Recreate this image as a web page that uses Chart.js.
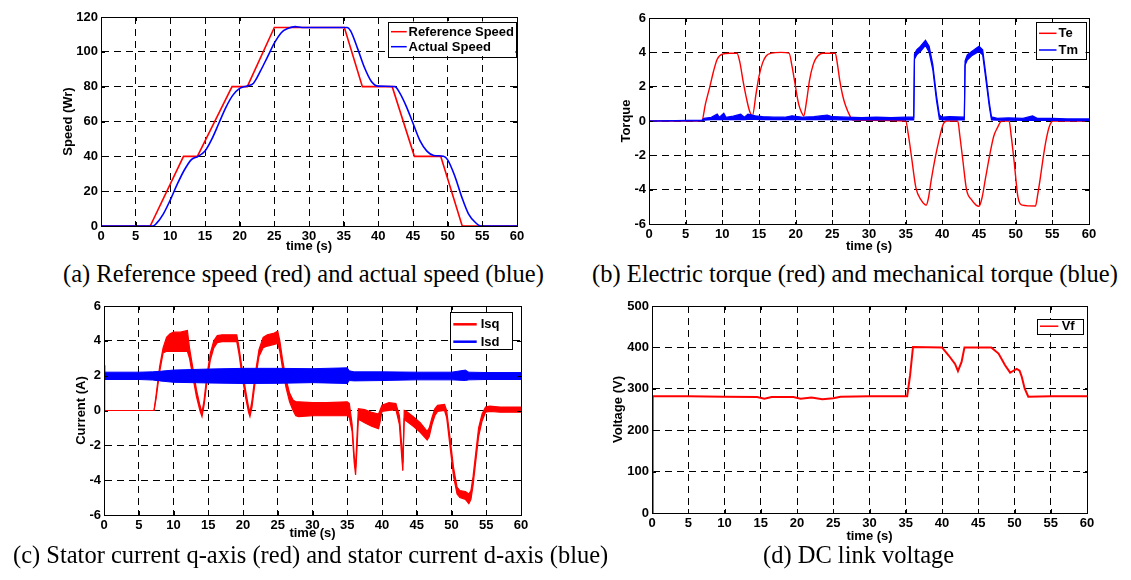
<!DOCTYPE html>
<html>
<head>
<meta charset="utf-8">
<script src="https://cdn.jsdelivr.net/npm/chart.js@4.4.1/dist/chart.umd.min.js"></script>
<style>
  html, body { margin: 0; padding: 0; background: #fff; }
  body { width: 1131px; height: 580px; position: relative; overflow: hidden; }
  canvas { position: absolute; }
  .caption {
    position: absolute;
    font-family: "Liberation Serif", "Times New Roman", serif;
    font-size: 24.5px;
    line-height: 24.5px;
    white-space: nowrap;
    color: #000;
  }
</style>
</head>
<body>
<canvas id="speedChart" width="560" height="258" style="left:0;top:0"></canvas>
<canvas id="torqueChart" width="571" height="258" style="left:560px;top:0"></canvas>
<canvas id="currentChart" width="560" height="258" style="left:0;top:292px"></canvas>
<canvas id="voltageChart" width="571" height="258" style="left:560px;top:292px"></canvas>

<div class="caption" style="left:63px;top:261.5px">(a) Reference speed (red) and actual speed (blue)</div>
<div class="caption" style="left:592px;top:261.5px">(b) Electric torque (red) and mechanical torque (blue)</div>
<div class="caption" style="left:13px;top:543px">(c) Stator current q-axis (red) and stator current d-axis (blue)</div>
<div class="caption" style="left:763px;top:543px">(d) DC link voltage</div>

<script>
// (a) speed
const refTime = [0, 7.1, 11.9, 13.9, 18.9, 21.1, 25.0, 35.1, 37.7, 42.0, 45.2, 49.0, 52.1, 60];
const refSpeed = [0, 0, 40, 40, 80, 80, 114, 114, 80, 80, 40, 40, 0, 0];
const actTime = [0, 7.5, 8, 9, 10, 11, 12, 13, 14, 15, 16, 17, 18, 19, 20, 21, 22, 23, 24, 25, 26, 27, 28, 29,
  35.5, 36, 37, 38, 39, 40, 42.4, 43, 44, 45, 46, 47, 48, 49.4, 50, 51, 52, 53, 54, 54.8, 60];
const actSpeed = [0, 0, 1.5, 7, 15, 24, 32, 38, 40, 43, 50, 59, 68, 75, 79, 80.3, 82, 89, 97, 105, 111, 113.5, 114.5, 114,
  114, 112, 102, 91, 83, 80.3, 80, 77, 69, 59, 49, 43, 40.5, 40, 38, 29, 17, 7, 2, 0, 0];

// (b) torque
const teTime = [0, 7.2, 7.7, 8.3, 8.8, 9.3, 10.0, 11.0, 12.0, 12.4, 12.8, 13.3, 13.7, 14.1, 14.6, 15.0, 15.5, 16.0, 16.7, 18,
  19.1, 19.5, 19.9, 20.4, 20.8, 21.1, 21.5, 21.9, 22.4, 22.8, 23.7, 25.4, 25.7, 26.0, 26.4, 26.8, 27.4, 27.8, 35.0, 35.4,
  35.8, 36.4, 37.1, 37.8, 38.1, 38.5, 39.0, 39.5, 40.1, 40.6, 42.1, 42.4, 42.8, 43.3, 44.0, 44.6, 45.0, 45.4, 45.9, 46.5,
  47.0, 47.5, 48.1, 49.1, 49.4, 49.8, 50.3, 50.9, 52.7, 53.0, 53.4, 53.8, 54.2, 54.6, 55.1, 60];
const teValues = [0, 0, 1.0, 2.0, 2.9, 3.6, 3.9, 3.95, 3.95, 3.4, 2.4, 1.3, 0.6, 0.3, 1.6, 2.6, 3.4, 3.8, 3.95, 4.0,
  3.95, 3.2, 2.2, 1.0, 0.5, 0.3, 1.2, 2.4, 3.3, 3.67, 3.95, 3.95, 3.3, 2.4, 1.5, 0.9, 0.3, 0.05, 0, -0.9,
  -2.1, -3.9, -4.6, -4.9, -4.5, -3.4, -2.2, -1.2, -0.2, 0, 0, -0.9, -2.3, -4.0, -4.6, -4.9, -4.97, -4.5, -3.3, -1.9,
  -0.9, -0.4, 0, 0, -0.9, -2.4, -4.4, -4.9, -4.95, -4.3, -3.2, -2.0, -1.0, -0.3, 0, 0];
const tmTime = [0, 7.2, 7.5, 8.5, 9.3, 9.6, 10.2, 10.5, 11.5, 12.5, 13.0, 13.5, 14.5, 15.5, 17, 18.5, 19.5, 21, 22.5, 24.3,
  25, 27, 29, 31, 33, 35, 36.1, 36.2, 36.5, 37.0, 37.7, 38.2, 38.7, 39.2, 39.6, 40, 41, 43.0, 43.1, 43.4,
  44, 45, 45.5, 46, 46.4, 46.7, 47.5, 49, 51, 52.3, 53, 55, 57, 60];
const tmHigh = [0, 0.05, 0.15, 0.22, 0.4, 0.22, 0.45, 0.22, 0.28, 0.4, 0.22, 0.4, 0.3, 0.25, 0.22, 0.22, 0.3, 0.22, 0.25, 0.35,
  0.25, 0.22, 0.2, 0.22, 0.2, 0.22, 0.22, 3.9, 4.15, 4.35, 4.7, 4.35, 3.3, 1.5, 0.35, 0.22, 0.25, 0.22, 3.5, 3.85,
  4.05, 4.35, 4.15, 2.5, 1.1, 0.25, 0.15, 0.18, 0.15, 0.3, 0.15, 0.15, 0.12, 0.12];
const tmLow = [0, 0, 0.05, 0.08, 0.1, 0.08, 0.1, 0.08, 0.08, 0.1, 0.08, 0.1, 0.1, 0.08, 0.08, 0.08, 0.1, 0.08, 0.08, 0.1,
  0.08, 0.06, 0.06, 0.06, 0.06, 0.06, 0.06, 3.6, 3.85, 4.05, 4.4, 4.0, 3.0, 1.2, 0.1, 0.06, 0.06, 0.06, 3.25, 3.55,
  3.8, 4.05, 3.85, 2.2, 0.85, 0.06, 0.05, 0.05, 0.03, 0.05, 0.03, 0.03, 0.02, 0.02];

// (c) stator currents (noisy traces kept as upper / lower envelope)
const isqTime = [0, 7.2, 7.5, 8.0, 8.5, 9.0, 9.5, 10, 11, 12, 12.3, 12.8, 13.3, 13.8, 14.1, 14.4, 14.8, 15.3, 15.8, 16.3,
  17, 18, 19.1, 19.4, 19.9, 20.4, 20.8, 21.0, 21.3, 21.8, 22.3, 22.9, 23.5, 24.5, 25.0, 25.3, 25.7, 26.2, 26.7, 27.2,
  27.6, 28, 30, 32, 35, 35.3, 35.7, 36.0, 36.2, 36.4, 36.6, 37.5, 38.5, 39.5, 39.7, 40, 41, 42, 42.5, 42.9,
  43.0, 43.2, 43.5, 44.5, 45.5, 46.5, 46.8, 47.2, 47.6, 48, 49, 49.3, 49.8, 50.3, 50.8, 51.2, 52, 52.5, 52.8, 53.1,
  53.5, 53.9, 54.4, 54.9, 55.5, 57, 60];
const isqHigh = [0, 0, 0.9, 2.5, 3.6, 4.2, 4.4, 4.5, 4.5, 4.6, 3.6, 2.4, 1.2, 0.3, -0.1, 0.6, 2.0, 3.3, 4.0, 4.3,
  4.35, 4.35, 4.35, 3.7, 2.3, 1.1, 0.2, -0.1, 0.6, 2.2, 3.5, 4.2, 4.35, 4.45, 4.55, 4.0, 2.9, 1.8, 1.0, 0.6,
  0.5, 0.5, 0.45, 0.45, 0.5, 0.4, -0.8, -2.6, -3.3, -1.5, 0.1, 0.05, -0.1, -0.2, 0.0, 0.3, 0.45, 0.4, -0.3, -2.3,
  -3.0, 0.0, -0.05, -0.35, -0.7, -1.2, -1.0, -0.4, 0.1, 0.3, 0.35, 0.0, -1.6, -3.3, -4.4, -4.6, -4.65, -4.8, -4.6, -3.8,
  -2.4, -1.0, -0.2, 0.2, 0.25, 0.2, 0.2];
const isqLow = [0, 0, 0.7, 2.2, 3.3, 3.4, 3.4, 3.4, 3.4, 3.4, 3.0, 1.9, 0.8, 0.0, -0.35, 0.3, 1.6, 2.9, 3.6, 3.9,
  3.95, 3.95, 3.95, 3.3, 1.9, 0.7, -0.1, -0.35, 0.2, 1.8, 3.1, 3.6, 3.7, 3.8, 3.85, 3.4, 2.4, 1.3, 0.5, 0.0,
  -0.3, -0.35, -0.3, -0.3, -0.3, -0.4, -1.2, -3.0, -3.7, -2.2, -0.5, -0.7, -0.9, -1.05, -0.7, -0.05, 0.0, 0.05, -0.8, -3.0,
  -3.45, -0.5, -0.6, -0.9, -1.25, -1.7, -1.5, -0.8, -0.3, -0.05, 0.0, -0.4, -2.1, -3.8, -4.8, -5.0, -5.1, -5.35, -5.1, -4.3,
  -2.9, -1.5, -0.6, -0.1, -0.05, -0.1, -0.1];
const isdTime = [0, 0.1, 5, 7, 8, 10, 15, 20, 25, 30, 35, 35.3, 36, 40, 45, 50, 52, 52.5, 55, 60];
const isdHigh = [2.6, 2.2, 2.2, 2.22, 2.25, 2.32, 2.38, 2.42, 2.42, 2.4, 2.45, 2.28, 2.22, 2.22, 2.2, 2.2, 2.32, 2.2, 2.18, 2.18];
const isdLow = [0, 1.78, 1.78, 1.75, 1.7, 1.62, 1.58, 1.55, 1.56, 1.6, 1.55, 1.72, 1.7, 1.72, 1.76, 1.76, 1.72, 1.76, 1.78, 1.78];

// (d) DC link voltage
const vfTime = [0, 0.1, 5, 10, 14.5, 15.5, 16.5, 19.5, 20.5, 22, 23.5, 25, 26, 30, 35.2, 35.6, 36.0, 40.0, 40.9, 41.8,
  42.2, 42.7, 43.1, 46.8, 47.8, 48.7, 49.4, 49.8, 50.3, 50.7, 51.0, 51.4, 51.9, 55, 60];
const vfValues = [0, 282, 282, 281, 280, 276, 280, 280, 276, 279, 275, 277, 281, 282, 282, 333, 401, 400, 381, 360,
  343, 365, 400, 400, 385, 357, 339, 343, 348, 344, 329, 301, 281, 282, 282];

const RED = '#ff0000';
const BLUE = '#0000ff';

Chart.defaults.font.family = '"Liberation Sans", Arial, sans-serif';
Chart.defaults.font.size = 13;
Chart.defaults.font.weight = 'bold';
Chart.defaults.color = '#000';

function pts(xs, ys) {
  return xs.map((x, i) => ({ x: x, y: ys[i] }));
}

// box round the plot area, with short ticks pointing inwards like matlab
const frame = {
  id: 'frame',
  afterDatasetsDraw(chart) {
    const { ctx, chartArea: a, scales } = chart;
    ctx.save();
    ctx.strokeStyle = '#000';
    ctx.lineWidth = 1;
    ctx.beginPath();
    scales.x.ticks.forEach(t => {
      const px = Math.round(scales.x.getPixelForValue(t.value)) + 0.5;
      ctx.moveTo(px, a.bottom); ctx.lineTo(px, a.bottom - 4);
      ctx.moveTo(px, a.top); ctx.lineTo(px, a.top + 4);
    });
    scales.y.ticks.forEach(t => {
      const py = Math.round(scales.y.getPixelForValue(t.value)) + 0.5;
      ctx.moveTo(a.left, py); ctx.lineTo(a.left + 4, py);
      ctx.moveTo(a.right, py); ctx.lineTo(a.right - 4, py);
    });
    ctx.stroke();
    ctx.strokeRect(Math.round(a.left) + 0.5, Math.round(a.top) + 0.5,
      Math.round(a.right - a.left), Math.round(a.bottom - a.top));
    ctx.restore();
  }
};

function boxLegend(cfg) {
  return {
    id: 'boxLegend',
    afterDraw(chart) {
      const ctx = chart.ctx;
      ctx.save();
      ctx.fillStyle = '#fff';
      ctx.fillRect(cfg.x, cfg.y, cfg.w, cfg.h);
      ctx.strokeStyle = '#000';
      ctx.lineWidth = 1;
      ctx.strokeRect(Math.round(cfg.x) + 0.5, Math.round(cfg.y) + 0.5, Math.round(cfg.w), Math.round(cfg.h));
      ctx.font = 'bold 13px "Liberation Sans", Arial, sans-serif';
      ctx.textBaseline = 'middle';
      cfg.items.forEach((it, i) => {
        const y = cfg.rows[i];
        ctx.strokeStyle = it.color;
        ctx.lineWidth = cfg.lineWidth;
        ctx.beginPath();
        ctx.moveTo(cfg.x1, y);
        ctx.lineTo(cfg.x2, y);
        ctx.stroke();
        ctx.fillStyle = '#000';
        ctx.fillText(it.label, cfg.tx, y + 0.5);
      });
      ctx.restore();
    }
  };
}

function scalesFor(o) {
  return {
    x: {
      type: 'linear', min: 0, max: 60,
      ticks: { stepSize: 5, padding: 3, autoSkip: false, maxRotation: 0 },
      grid: { color: '#000', lineWidth: 1, drawTicks: false },
      border: { display: true, color: '#000', dash: [7, 5] },
      title: { display: true, text: 'time (s)', font: { size: 13, weight: 'bold', lineHeight: 1.2 },
        padding: { top: 0, bottom: o.xTitlePad } },
      afterFit: s => { s.height = o.xHeight; }
    },
    y: {
      type: 'linear', min: o.yMin, max: o.yMax,
      ticks: { stepSize: o.yStep, padding: 3 },
      grid: { color: '#000', lineWidth: 1, drawTicks: false },
      border: { display: true, color: '#000', dash: [7, 5] },
      title: { display: true, text: o.yTitle, font: { size: 13, weight: 'bold', lineHeight: 1.2 },
        padding: { top: o.yTitlePad, bottom: 0 } },
      afterFit: s => { s.width = o.yWidth; }
    }
  };
}

function baseOptions(o) {
  return {
    responsive: false,
    animation: false,
    devicePixelRatio: 1,
    layout: { padding: { left: 0, top: o.padTop, right: o.padRight, bottom: 0 } },
    elements: { point: { radius: 0 }, line: { tension: 0 } },
    plugins: { legend: { display: false }, tooltip: { enabled: false } },
    scales: scalesFor(o)
  };
}

// (a)
new Chart(document.getElementById('speedChart'), {
  type: 'line',
  data: {
    datasets: [
      { label: 'Actual Speed', data: pts(actTime, actSpeed), borderColor: BLUE, borderWidth: 1.6,
        cubicInterpolationMode: 'monotone', fill: false },
      { label: 'Reference Speed', data: pts(refTime, refSpeed), borderColor: RED, borderWidth: 1.6, fill: false }
    ]
  },
  options: baseOptions({ padTop: 17, padRight: 43, yWidth: 101, xHeight: 32, yMin: 0, yMax: 120, yStep: 20,
    yTitle: 'Speed (Wr)', yTitlePad: 60.7, xTitlePad: 3.7 }),
  plugins: [frame, boxLegend({ x: 387.5, y: 21.5, w: 128, h: 34.5, rows: [31.7, 46.7], x1: 391, x2: 406.7, tx: 408.5,
    lineWidth: 1.5, items: [{ label: 'Reference Speed', color: RED }, { label: 'Actual Speed', color: BLUE }] })]
});

// (b)
new Chart(document.getElementById('torqueChart'), {
  type: 'line',
  data: {
    datasets: [
      { label: 'Tm', data: pts(tmTime, tmHigh), borderColor: BLUE, borderWidth: 1.2, fill: '+1', backgroundColor: BLUE },
      { label: 'Tm low', data: pts(tmTime, tmLow), borderColor: BLUE, borderWidth: 1.2, fill: false },
      { label: 'Te', data: pts(teTime, teValues), borderColor: RED, borderWidth: 1.4,
        cubicInterpolationMode: 'monotone', fill: false }
    ]
  },
  options: baseOptions({ padTop: 18, padRight: 42, yWidth: 89, xHeight: 34, yMin: -6, yMax: 6, yStep: 2,
    yTitle: 'Torque', yTitlePad: 58.2, xTitlePad: 3.9 }),
  plugins: [frame, boxLegend({ x: 475.5, y: 22, w: 50, h: 37, rows: [33.3, 50], x1: 479, x2: 496.5, tx: 498.5,
    lineWidth: 1.5, items: [{ label: 'Te', color: RED }, { label: 'Tm', color: BLUE }] })]
});

// (c)
new Chart(document.getElementById('currentChart'), {
  type: 'line',
  data: {
    datasets: [
      { label: 'Isd', data: pts(isdTime, isdHigh), borderColor: BLUE, borderWidth: 1, fill: '+1', backgroundColor: BLUE },
      { label: 'Isd low', data: pts(isdTime, isdLow), borderColor: BLUE, borderWidth: 1, fill: false },
      { label: 'Isq', data: pts(isqTime, isqHigh), borderColor: RED, borderWidth: 1.2, fill: '+1', backgroundColor: RED },
      { label: 'Isq low', data: pts(isqTime, isqLow), borderColor: RED, borderWidth: 1.2, fill: false }
    ]
  },
  options: baseOptions({ padTop: 14, padRight: 39, yWidth: 104, xHeight: 35, yMin: -6, yMax: 6, yStep: 2,
    yTitle: 'Current (A)', yTitlePad: 73.5, xTitlePad: 8.4 }),
  plugins: [frame, boxLegend({ x: 450, y: 20.3, w: 61.7, h: 37, rows: [32.3, 49.7], x1: 453.3, x2: 476.7, tx: 480.7,
    lineWidth: 2.5, items: [{ label: 'Isq', color: RED }, { label: 'Isd', color: BLUE }] })]
});

// (d)
new Chart(document.getElementById('voltageChart'), {
  type: 'line',
  data: {
    datasets: [
      { label: 'Vf', data: pts(vfTime, vfValues), borderColor: RED, borderWidth: 2, fill: false }
    ]
  },
  options: baseOptions({ padTop: 14, padRight: 44, yWidth: 92, xHeight: 37, yMin: 0, yMax: 500, yStep: 100,
    yTitle: 'Voltage (V)', yTitlePad: 50.2, xTitlePad: 5.5 }),
  plugins: [frame, boxLegend({ x: 476.7, y: 27, w: 45.6, h: 14.5, rows: [34.2], x1: 480, x2: 498.3, tx: 501.7,
    lineWidth: 1.5, items: [{ label: 'Vf', color: RED }] })]
});
</script>
</body>
</html>
